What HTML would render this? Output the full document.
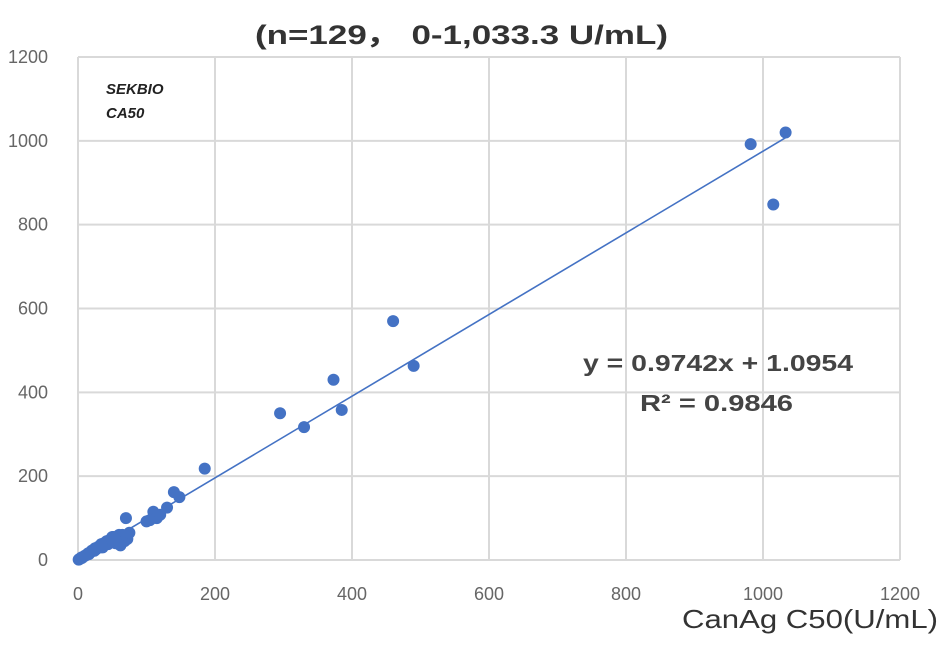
<!DOCTYPE html>
<html><head><meta charset="utf-8"><style>
body{margin:0;background:#fff;width:944px;height:645px;overflow:hidden;font-family:"Liberation Sans",sans-serif}
</style></head><body>
<svg width="944" height="645">
<g id="grid"></g>
<g id="ticks"></g>
<line id="trend" stroke="#4472c4" stroke-width="1.6"/>
<g id="pts"></g>
<text x="255" y="44" textLength="413" lengthAdjust="spacingAndGlyphs" font-size="27" font-weight="bold" fill="#333">(n=129， 0-1,033.3 U/mL)</text>
<text x="106" y="94" font-size="15" font-weight="bold" font-style="italic" fill="#222">SEKBIO</text>
<text x="106" y="118" font-size="15" font-weight="bold" font-style="italic" fill="#222">CA50</text>
<text x="583" y="371" textLength="270" lengthAdjust="spacingAndGlyphs" font-size="23" font-weight="bold" fill="#444">y = 0.9742x + 1.0954</text>
<text x="640" y="411" textLength="153" lengthAdjust="spacingAndGlyphs" font-size="23" font-weight="bold" fill="#444">R² = 0.9846</text>
<text x="682" y="628" textLength="256" lengthAdjust="spacingAndGlyphs" font-size="26" fill="#333">CanAg C50(U/mL)</text>
</svg>
<script>
const xTicks=[0,200,400,600,800,1000,1200];
const yTicks=[0,200,400,600,800,1000,1200];
const xs=[1033,982,1015,460,490,373,295,385,330,185,140,148,110,115,105,130,70,72,60,55,50,45,40,35,30,25,20,15,10,5,3,2,8,12,18,22,28,33,38,42,48,52,58,65,68,62,44,36,26,16,6,1,4,14,24,34,54,75,100,120];
const ys=[1020,992,848,570,463,430,350,358,317,218,162,150,115,100,95,125,100,50,60,40,55,45,42,35,32,28,22,16,10,6,3,2,8,12,18,24,28,30,40,45,50,55,45,60,45,35,38,30,25,14,5,1,4,14,22,38,50,65,92,108];
const slope=0.9742, intercept=1.0954;
const X=v=>78+v*(822/1200), Y=v=>560-v*(503/1200);
const ns="http://www.w3.org/2000/svg";
const grid=document.getElementById('grid'),ticks=document.getElementById('ticks'),pts=document.getElementById('pts');
xTicks.forEach(t=>{const l=document.createElementNS(ns,'line');


l.setAttribute('x1',X(t));l.setAttribute('x2',X(t));l.setAttribute('y1',Y(1200));l.setAttribute('y2',Y(0));l.setAttribute('stroke','#d9d9d9');l.setAttribute('stroke-width','2');grid.appendChild(l);
const tx=document.createElementNS(ns,'text');


tx.setAttribute('x',X(t));tx.setAttribute('y',600);tx.setAttribute('text-anchor','middle');tx.setAttribute('font-size','18');tx.setAttribute('fill','#666');tx.textContent=t;ticks.appendChild(tx);});
yTicks.forEach(t=>{const l=document.createElementNS(ns,'line');


l.setAttribute('x1',X(0));l.setAttribute('x2',X(1200));l.setAttribute('y1',Y(t));l.setAttribute('y2',Y(t));l.setAttribute('stroke','#d9d9d9');l.setAttribute('stroke-width','2');grid.appendChild(l);
const tx=document.createElementNS(ns,'text');


tx.setAttribute('x',48);tx.setAttribute('y',Y(t)+6);tx.setAttribute('text-anchor','end');tx.setAttribute('font-size','18');tx.setAttribute('fill','#666');tx.textContent=t;ticks.appendChild(tx);});
const tr=document.getElementById('trend');
tr.setAttribute('x1',X(0));tr.setAttribute('y1',Y(intercept));tr.setAttribute('x2',X(1033));tr.setAttribute('y2',Y(slope*1033+intercept));
xs.forEach((x,i)=>{const c=document.createElementNS(ns,'circle');


c.setAttribute('cx',X(x));c.setAttribute('cy',Y(ys[i]));c.setAttribute('r',6);c.setAttribute('fill','#4472c4');pts.appendChild(c);});
</script>
</body></html>
